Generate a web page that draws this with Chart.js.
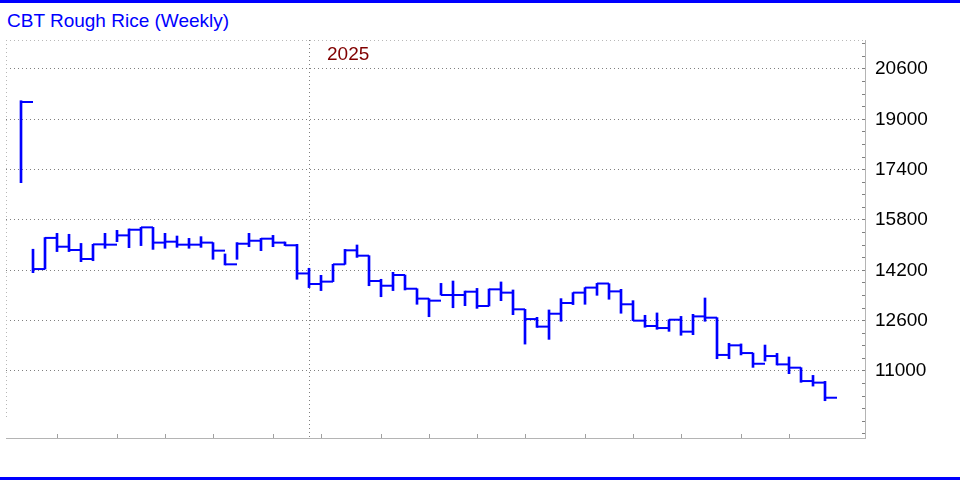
<!DOCTYPE html>
<html>
<head>
<meta charset="utf-8">
<script src="https://cdn.jsdelivr.net/npm/chart.js@4.4.1/dist/chart.umd.min.js"></script>
<style>
    html, body { margin: 0; padding: 0; background: #fff; }
    #wrap { position: relative; width: 960px; height: 480px; overflow: hidden; }
    #wrap .rule { position: absolute; left: 0; width: 960px; height: 3px; background: #0000ff; }
    #title {
        position: absolute; left: 7px; top: 10px; line-height: 22px;
        font-family: "Liberation Sans", Arial, sans-serif; font-size: 19px; color: #0000ff;
    }
    canvas { position: absolute; left: 0; top: 0; }
</style>
</head>
<body>
<div id="wrap">
    <div class="rule" style="top:0"></div>
    <div id="title">CBT Rough Rice (Weekly)</div>
    <canvas id="riceChart" width="960" height="480"></canvas>
    <div class="rule" style="top:477px"></div>
</div>
<script>
// weekly HLC bars, oldest first
const highs = [
    19590, 14870, 15240, 15375, 15345, 15055, 15025, 15375, 15470, 15515,
    15565, 15565, 15375, 15290, 15215, 15270, 15080, 14720, 15080, 15375,
    15215, 15310, 15100, 15025, 14265, 14040, 14390, 14865, 15005, 14665,
    13915, 14135, 14050, 13615, 13300, 13785, 13860, 13540, 13625, 13605,
    13830, 13575, 12960, 12705, 12940, 13300, 13490, 13650, 13785, 13775,
    13595, 13235, 12770, 12845, 12630, 12735, 12800, 13320, 12695, 11880,
    11860, 11570, 11825, 11560, 11445, 11105, 10860, 10670
];
const lows = [
    16985, 14125, 14240, 14795, 14795, 14475, 14505, 14900, 15110, 14920,
    14985, 14865, 14900, 14930, 14900, 14930, 14550, 14370, 14550, 14950,
    14825, 14950, 14985, 13915, 13650, 13555, 13840, 14390, 14610, 13710,
    13360, 13555, 13575, 13120, 12725, 13415, 13010, 13075, 12990, 13065,
    13235, 12790, 11855, 12385, 12005, 12580, 13110, 13120, 13405, 13280,
    12835, 12600, 12390, 12325, 12260, 12135, 12155, 12580, 11390, 11390,
    11510, 11115, 11315, 11190, 10915, 10640, 10520, 10055
];
const closes = [
    19550, 14240, 15230, 14950, 14845, 14560, 15025, 15015, 15310, 15490,
    15565, 15080, 15110, 15015, 15015, 15080, 14825, 14390, 15045, 15140,
    15205, 15080, 14995, 14100, 13765, 13840, 14390, 14835, 14665, 13860,
    13710, 14050, 13615, 13300, 13235, 13415, 13415, 13520, 13065, 13595,
    13490, 12960, 12650, 12410, 12820, 13160, 13490, 13650, 13780, 13530,
    13120, 12600, 12430, 12365, 12630, 12250, 12735, 12695, 11510, 11815,
    11570, 11230, 11475, 11210, 11105, 10680, 10630, 10150
];
const weeks = closes.map((_, i) => i);

const priceLabels = [11000, 12600, 14200, 15800, 17400, 19000, 20600];
const priceMinorStep = 400;
const monthTicks = [3, 8, 12, 16, 21, 25, 30, 34, 38, 42, 47, 51, 55, 60, 64];
const yearMarks = [{ week: 24, label: '2025' }];

const FONT = '"Liberation Sans", Arial, sans-serif';
const BLUE = '#0000ff';
const CLEAR = 'rgba(0,0,0,0)';

// dotted frame on the left/top edges and the year caption
const frameAndYear = {
    id: 'frameAndYear',
    beforeDatasetsDraw(chart) {
        const { ctx, chartArea: a } = chart;
        ctx.save();
        ctx.strokeStyle = '#b8b8b8';
        ctx.lineWidth = 1;
        ctx.setLineDash([1, 3]);
        ctx.beginPath();
        ctx.moveTo(a.left, a.top + 0.5);
        ctx.lineTo(a.right, a.top + 0.5);
        ctx.moveTo(a.left + 0.5, a.top);
        ctx.lineTo(a.left + 0.5, a.bottom - 18);
        ctx.stroke();
        ctx.restore();
    },
    afterDatasetsDraw(chart) {
        const { ctx, chartArea, scales: { x } } = chart;
        ctx.save();
        ctx.fillStyle = '#800000';
        ctx.font = '19px ' + FONT;
        ctx.textBaseline = 'alphabetic';
        yearMarks.forEach(m => {
            ctx.fillText(m.label, x.getPixelForValue(m.week) + 18, chartArea.top + 20);
        });
        ctx.restore();
    }
};

const isMajor = v => priceLabels.includes(v);
const isYear = v => yearMarks.some(m => m.week === v);

new Chart(document.getElementById('riceChart'), {
    type: 'bar',
    data: {
        datasets: [{
            label: 'High-Low',
            data: weeks.map(i => ({ x: i, y: [lows[i], highs[i]] })),
            backgroundColor: BLUE,
            borderWidth: 0,
            barThickness: 2
        }, {
            type: 'line',
            label: 'Close',
            data: weeks.map(i => ({ x: i, y: closes[i] })),
            showLine: false,
            pointStyle: 'dash',
            pointRadius: 12,
            pointHoverRadius: 12,
            pointBorderWidth: 2,
            pointBorderColor: BLUE,
            pointBackgroundColor: BLUE
        }]
    },
    options: {
        responsive: false,
        animation: false,
        devicePixelRatio: 1,
        layout: { autoPadding: false, padding: { left: 6, top: 40, right: 0, bottom: 0 } },
        plugins: {
            legend: { display: false },
            tooltip: { enabled: false }
        },
        scales: {
            x: {
                type: 'linear',
                min: -1.25,
                max: 70.333,
                offset: false,
                afterBuildTicks: s => {
                    const vals = yearMarks.map(m => m.week).concat(monthTicks);
                    s.ticks = vals.sort((a, b) => a - b).map(v => ({ value: v }));
                },
                afterFit: s => { s.height = 42; },
                ticks: { display: false },
                border: { display: true, color: '#b4b4b4', width: 1, dash: [1, 3] },
                grid: {
                    offset: false,
                    drawOnChartArea: true,
                    tickLength: -4,
                    lineWidth: 1,
                    color: c => (c.tick && isYear(c.tick.value)) ? '#808080' : CLEAR,
                    tickColor: c => (c.tick && monthTicks.includes(c.tick.value)) ? '#a0a0a0' : CLEAR
                }
            },
            y: {
                type: 'linear',
                position: 'right',
                min: 8870,
                max: 21520,
                afterBuildTicks: s => {
                    const ticks = [];
                    for (let v = priceLabels[0] - 5 * priceMinorStep; v < s.max; v += priceMinorStep) {
                        ticks.push({ value: v });
                    }
                    s.ticks = ticks;
                },
                afterFit: s => { s.width = 95; },
                border: { display: true, color: '#b4b4b4', width: 1, dash: [1, 3] },
                grid: {
                    drawOnChartArea: true,
                    tickLength: -3,
                    lineWidth: 1,
                    color: c => (c.tick && isMajor(c.tick.value)) ? '#808080' : CLEAR,
                    tickColor: '#808080'
                },
                ticks: {
                    autoSkip: false,
                    padding: 13,
                    color: '#000',
                    font: { family: FONT, size: 19 },
                    callback: v => isMajor(v) ? String(v) : ''
                }
            }
        }
    },
    plugins: [frameAndYear]
});
</script>
</body>
</html>
